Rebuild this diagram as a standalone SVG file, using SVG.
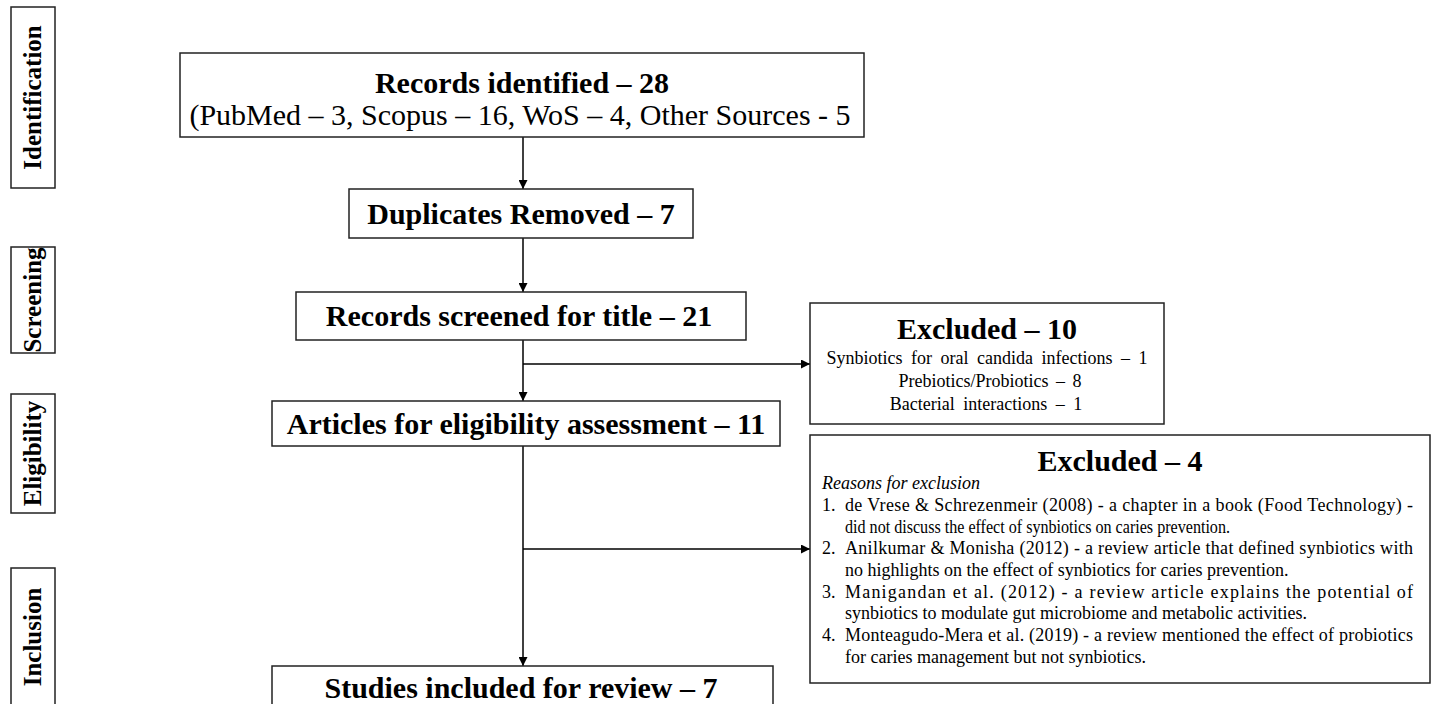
<svg xmlns="http://www.w3.org/2000/svg" width="1432" height="704" viewBox="0 0 1432 704">
<defs>
<marker id="arr" viewBox="0 0 10 10" refX="10" refY="5" markerWidth="9" markerHeight="9" markerUnits="userSpaceOnUse" orient="auto">
<path d="M0,0 L10,5 L0,10 z" fill="#000"/>
</marker>
</defs>
<style>
.box{fill:#fff;stroke:#222;stroke-width:1.5}
.t{font-family:"Liberation Serif","Times New Roman",serif;fill:#000}
.b{font-weight:bold}
.big{font-size:30px}
.side{font-size:25px;font-weight:bold}
.sm{font-size:18px}
.it{font-style:italic}
.c{text-anchor:middle}
.ln{stroke:#000;stroke-width:1.5;fill:none}
</style>
<rect width="1432" height="704" fill="#fff"/>
<g id="stage-identification">
<rect class="box" x="11" y="7" width="44" height="181"/>
<text class="t side c" transform="translate(41,97.5) rotate(-90)">Identification</text>
</g>
<g id="stage-screening">
<rect class="box" x="11" y="247" width="44" height="106"/>
<text class="t side c" transform="translate(41,300) rotate(-90)">Screening</text>
</g>
<g id="stage-eligibility">
<rect class="box" x="11" y="394" width="44" height="119"/>
<text class="t side c" transform="translate(41,453.5) rotate(-90)">Eligibility</text>
</g>
<g id="stage-inclusion">
<rect class="box" x="11" y="568" width="44" height="140"/>
<text class="t side c" transform="translate(41,637) rotate(-90)">Inclusion</text>
</g>
<g id="connectors">
<line class="ln" x1="523" y1="137" x2="523" y2="189" marker-end="url(#arr)"/>
<line class="ln" x1="523" y1="238" x2="523" y2="292" marker-end="url(#arr)"/>
<line class="ln" x1="523" y1="340" x2="523" y2="401" marker-end="url(#arr)"/>
<line class="ln" x1="523" y1="364" x2="810" y2="364" marker-end="url(#arr)"/>
<line class="ln" x1="523" y1="446" x2="523" y2="666" marker-end="url(#arr)"/>
<line class="ln" x1="523" y1="549" x2="810" y2="549" marker-end="url(#arr)"/>
</g>
<g id="records-identified">
<rect class="box" x="180" y="53" width="684" height="84"/>
<text class="t b big c" x="522" y="93">Records identified – 28</text>
<text class="t big c" x="520" y="125">(PubMed – 3, Scopus – 16, WoS – 4, Other Sources - 5</text>
</g>
<g id="duplicates-removed">
<rect class="box" x="349" y="189" width="344" height="49"/>
<text class="t b big c" x="521" y="224">Duplicates Removed – 7</text>
</g>
<g id="records-screened">
<rect class="box" x="296" y="292" width="450" height="48"/>
<text class="t b big c" x="519" y="326">Records screened for title – 21</text>
</g>
<g id="articles-eligibility">
<rect class="box" x="272" y="401" width="508" height="45"/>
<text class="t b big c" x="526" y="434">Articles for eligibility assessment – 11</text>
</g>
<g id="studies-included">
<rect class="box" x="272" y="666" width="501" height="44"/>
<text class="t b big c" x="521" y="698">Studies included for review – 7</text>
</g>
<g id="excluded-10">
<rect class="box" x="810" y="303" width="354" height="121"/>
<text class="t b big c" x="987" y="339">Excluded – 10</text>
<text class="t sm c" x="987" y="364" word-spacing="4">Synbiotics for oral candida infections – 1</text>
<text class="t sm c" x="990" y="387" word-spacing="3">Prebiotics/Probiotics – 8</text>
<text class="t sm c" x="986" y="410" word-spacing="4">Bacterial interactions – 1</text>
</g>
<g id="excluded-4">
<rect class="box" x="810" y="435" width="620" height="248"/>
<text class="t b big c" x="1120" y="471">Excluded – 4</text>
<text class="t sm it" x="822" y="489">Reasons for exclusion</text>
<text class="t sm" x="822" y="511">1.</text>
<text class="t sm" x="845" y="511" textLength="568" lengthAdjust="spacing">de Vrese &amp; Schrezenmeir (2008) - a chapter in a book (Food Technology) -</text>
<text class="t sm" x="845" y="533" textLength="385" lengthAdjust="spacingAndGlyphs">did not discuss the effect of synbiotics on caries prevention.</text>
<text class="t sm" x="822" y="554">2.</text>
<text class="t sm" x="845" y="554" textLength="568" lengthAdjust="spacing">Anilkumar &amp; Monisha (2012) - a review article that defined synbiotics with</text>
<text class="t sm" x="845" y="576">no highlights  on the effect of synbiotics  for caries prevention.</text>
<text class="t sm" x="822" y="598">3.</text>
<text class="t sm" x="845" y="598" textLength="568" lengthAdjust="spacing">Manigandan et al. (2012) - a review article explains the potential of</text>
<text class="t sm" x="845" y="619">synbiotics to modulate gut microbiome and metabolic activities.</text>
<text class="t sm" x="822" y="641">4.</text>
<text class="t sm" x="845" y="641" textLength="568" lengthAdjust="spacing">Monteagudo-Mera et al. (2019) - a review mentioned the effect of probiotics</text>
<text class="t sm" x="845" y="663">for caries management but not synbiotics.</text>
</g>
</svg>
